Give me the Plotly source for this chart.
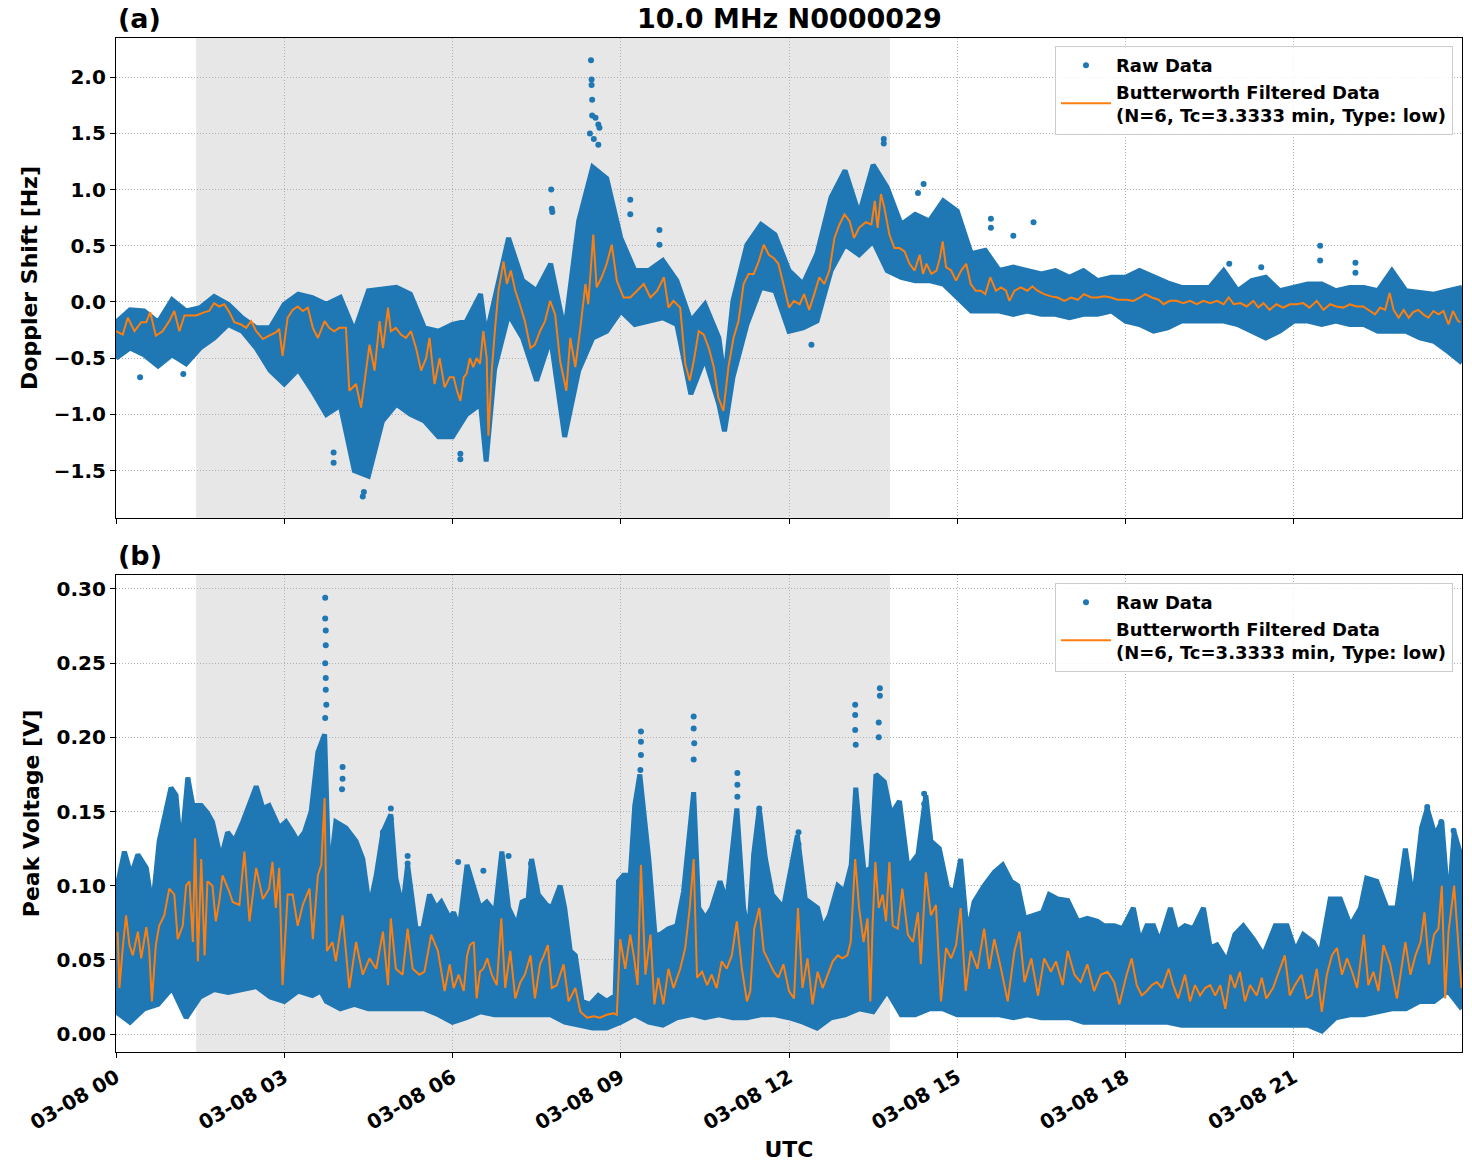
import pandas as pd
import plotly.graph_objects as go

# ---------------- data ----------------
BASE_DAY = "2024-03-08"
SHADE_START_H = 1.43
SHADE_END_H = 13.80

# ---- Panel (a): Doppler shift [Hz] ----
# raw-data band (lower / upper envelope of the dense dots)
A_HOURS = [0, 0.25, 0.5, 0.75, 1, 1.25, 1.5, 1.75, 2, 2.25, 2.5, 2.75, 3, 3.25, 3.5, 3.75,
           4, 4.25, 4.5, 4.75, 5, 5.25, 5.5, 5.75, 6, 6.25, 6.5, 6.6, 6.75, 7, 7.25, 7.5,
           7.75, 8, 8.25, 8.5, 8.75, 9, 9.25, 9.5, 9.75, 10, 10.25, 10.5, 10.75, 10.85, 11,
           11.25, 11.5, 11.75, 12, 12.25, 12.5, 12.75, 13, 13.25, 13.5, 13.75, 14, 14.25,
           14.5, 14.75, 15, 15.25, 15.5, 15.75, 16, 16.25, 16.5, 16.75, 17, 17.25, 17.5,
           17.75, 18, 18.25, 18.5, 18.75, 19, 19.25, 19.5, 19.75, 20, 20.25, 20.5, 20.75,
           21, 21.25, 21.5, 21.75, 22, 22.25, 22.5, 22.75, 23, 23.25, 23.5, 23.75, 24]
A_HIGH = [-0.18, -0.07, -0.08, -0.18, 0.02, -0.08, -0.05, 0.05, -0.02, -0.14, -0.23, -0.23,
          -0.02, 0.07, 0.04, -0.02, 0.04, -0.26, 0.10, 0.11, 0.13, 0.07, -0.23, -0.26, -0.20,
          -0.17, 0.07, -0.30, 0.04, 0.57, 0.19, 0.10, 0.34, -0.26, 0.72, 1.20, 1.10, 0.57,
          0.28, 0.28, 0.37, 0.19, -0.17, -0.02, -0.32, -0.70, 0.01, 0.51, 0.69, 0.60, 0.28,
          0.16, 0.43, 0.93, 1.17, 0.78, 1.22, 1.02, 0.69, 0.78, 0.72, 0.90, 0.81, 0.43, 0.46,
          0.28, 0.31, 0.28, 0.25, 0.28, 0.22, 0.28, 0.19, 0.22, 0.22, 0.28, 0.22, 0.17, 0.13,
          0.13, 0.13, 0.28, 0.10, 0.19, 0.22, 0.10, 0.13, 0.16, 0.16, 0.10, 0.13, 0.13, 0.10,
          0.28, 0.10, 0.08, 0.07, 0.10, 0.13]
A_LOW = [-0.50, -0.41, -0.47, -0.57, -0.47, -0.55, -0.41, -0.32, -0.20, -0.26, -0.41, -0.61,
         -0.73, -0.60, -0.79, -1.00, -0.92, -1.50, -1.55, -1.06, -0.91, -1.00, -1.06, -1.20,
         -1.20, -1.00, -0.91, -1.42, -0.60, -0.11, -0.32, -0.70, -0.32, -1.20, -0.61, -0.32,
         -0.26, -0.08, -0.20, -0.17, -0.14, -0.20, -0.82, -0.50, -0.91, -1.15, -0.67, -0.20,
         0.13, 0.10, -0.26, -0.23, -0.17, 0.28, 0.51, 0.42, 0.54, 0.28, 0.22, 0.19, 0.19, 0.16,
         0.04, -0.08, -0.08, -0.08, -0.11, -0.08, -0.11, -0.11, -0.14, -0.11, -0.11, -0.08,
         -0.17, -0.20, -0.26, -0.23, -0.17, -0.17, -0.17, -0.17, -0.20, -0.26, -0.32, -0.26,
         -0.17, -0.17, -0.20, -0.17, -0.20, -0.20, -0.26, -0.26, -0.26, -0.32, -0.35, -0.44,
         -0.54]
# isolated raw points outside the band
A_OUT_HOURS = [7.76, 7.77, 7.78, 8.47, 8.48, 8.48, 8.49, 8.49, 8.55, 8.60, 8.62, 8.45, 8.52,
               8.60, 9.17, 9.17, 9.69, 9.69, 13.69, 13.69, 14.40, 14.30, 4.40, 4.42, 3.88, 3.88,
               6.14, 6.14, 0.43, 1.20, 12.40, 15.60, 15.60, 16.36, 16.00, 21.47, 21.47, 22.10,
               22.10, 19.85, 20.42]
A_OUT_VALS = [1.00, 0.83, 0.80, 2.15, 1.98, 1.93, 1.80, 1.66, 1.64, 1.58, 1.55, 1.50, 1.45,
              1.40, 0.91, 0.78, 0.64, 0.51, 1.45, 1.41, 1.05, 0.97, -1.73, -1.69, -1.34, -1.43,
              -1.35, -1.40, -0.67, -0.64, -0.38, 0.74, 0.66, 0.71, 0.59, 0.50, 0.37, 0.35, 0.26,
              0.34, 0.31]
# Butterworth filtered curve
A_FILT_HOURS = [0, 0.12, 0.21, 0.33, 0.45, 0.54, 0.61, 0.71, 0.83, 0.95, 1.04, 1.13, 1.22, 1.31,
                1.43, 1.58, 1.66, 1.75, 1.84, 1.93, 2.02, 2.11, 2.23, 2.32, 2.41, 2.50, 2.62,
                2.73, 2.85, 2.91, 2.97, 3.06, 3.15, 3.24, 3.33, 3.42, 3.51, 3.60, 3.72, 3.80,
                3.89, 3.98, 4.10, 4.16, 4.28, 4.37, 4.43, 4.52, 4.61, 4.70, 4.76, 4.85, 4.90,
                4.99, 5.08, 5.17, 5.26, 5.35, 5.44, 5.53, 5.59, 5.68, 5.77, 5.86, 5.95,
                6.02, 6.08, 6.14, 6.20, 6.25, 6.31, 6.37, 6.43, 6.49, 6.55, 6.61, 6.64, 6.70,
                6.76, 6.82, 6.91, 6.97, 7.04, 7.12, 7.20, 7.29, 7.39, 7.47, 7.56, 7.65, 7.74,
                7.83, 7.92, 8.03, 8.10, 8.19, 8.28, 8.37, 8.42, 8.51, 8.57, 8.66, 8.75, 8.84,
                8.93, 9.05, 9.17, 9.29, 9.41, 9.53, 9.65, 9.77, 9.85, 9.94, 10.06, 10.15, 10.23,
                10.30, 10.39, 10.48, 10.57, 10.66, 10.74, 10.83, 10.92, 11.01, 11.10, 11.19,
                11.28, 11.37, 11.46, 11.55, 11.64, 11.73, 11.81, 11.90,
                12.00, 12.09, 12.19, 12.27, 12.36, 12.45, 12.54, 12.63, 12.72, 12.81, 12.90,
                12.99, 13.08, 13.16, 13.25, 13.37, 13.47, 13.53, 13.58, 13.64, 13.70, 13.79,
                13.88, 13.97, 14.06, 14.15, 14.24, 14.33, 14.39, 14.45, 14.54, 14.63, 14.69,
                14.74, 14.80, 14.89, 14.98, 15.07, 15.16, 15.24, 15.33, 15.42, 15.50, 15.59,
                15.69, 15.78, 15.87, 15.93, 16.02, 16.13, 16.25, 16.34, 16.43, 16.55, 16.67,
                16.79, 16.91, 17.03, 17.15, 17.26, 17.39, 17.50, 17.62, 17.74, 17.86,
                18.02, 18.14, 18.26, 18.35, 18.47, 18.59, 18.68, 18.79, 18.91, 19.03, 19.15,
                19.27, 19.39, 19.51, 19.63, 19.75, 19.84, 19.93, 20.05, 20.16, 20.28, 20.37,
                20.46, 20.57, 20.69, 20.81, 20.93, 21.05, 21.17, 21.28, 21.41, 21.53, 21.65,
                21.76, 21.88, 22.00, 22.12, 22.24, 22.36, 22.45, 22.54, 22.63, 22.71, 22.78,
                22.87, 22.96, 23.05, 23.13, 23.22, 23.31, 23.40, 23.49, 23.58, 23.67, 23.76,
                23.84, 23.93, 23.97]
A_FILT = [-0.26, -0.29, -0.14, -0.26, -0.18, -0.18, -0.09, -0.30, -0.26, -0.17, -0.08, -0.26,
          -0.12, -0.12, -0.12, -0.09, -0.08, -0.01, -0.04, -0.02, -0.09, -0.18, -0.20, -0.23,
          -0.17, -0.26, -0.33, -0.30, -0.27, -0.24, -0.48, -0.14, -0.07, -0.04, -0.08, -0.05,
          -0.23, -0.32, -0.17, -0.23, -0.26, -0.23, -0.23, -0.79, -0.73, -0.94, -0.70, -0.38,
          -0.61, -0.17, -0.41, -0.05, -0.26, -0.23, -0.29, -0.32, -0.26, -0.41, -0.61, -0.50,
          -0.32, -0.73, -0.50, -0.76, -0.67,
          -0.67, -0.79, -0.88, -0.67, -0.64, -0.50, -0.58, -0.50, -0.55, -0.26, -0.50, -1.19,
          -0.61, -0.23, 0.10, 0.36, 0.16, 0.28, 0.10, -0.02, -0.17, -0.41, -0.38, -0.26, -0.17,
          0.01, -0.11, -0.53, -0.79, -0.32, -0.58, -0.23, 0.16, -0.02, 0.60, 0.13, 0.22, 0.34,
          0.51, 0.19, 0.04, 0.04, 0.10, 0.16, 0.04, 0.10, 0.22, -0.05, 0.01, -0.05, -0.55,
          -0.70, -0.53, -0.26, -0.29, -0.41, -0.58, -0.85, -0.97, -0.58, -0.32, -0.17, 0.16,
          0.25, 0.25, 0.36, 0.51, 0.42, 0.39, 0.34, 0.16,
          -0.05, 0.01, -0.02, 0.07, -0.07, 0.07, 0.22, 0.16, 0.28, 0.57, 0.69, 0.78, 0.72,
          0.57, 0.66, 0.71, 0.69, 0.90, 0.66, 0.96, 0.84, 0.60, 0.48, 0.48, 0.45, 0.34, 0.28,
          0.42, 0.25, 0.34, 0.25, 0.28, 0.39, 0.54, 0.31, 0.28, 0.19, 0.28, 0.34, 0.16, 0.10,
          0.10, 0.07, 0.22, 0.10, 0.13, 0.10, 0.01, 0.10, 0.13, 0.10, 0.14, 0.10, 0.07, 0.05,
          0.04, 0.01, 0.04, 0.02, 0.07, 0.04, 0.04, 0.05, 0.04, 0.02,
          0.02, 0.01, 0.04, 0.07, 0.04, 0.02, -0.02, 0.01, 0.01, -0.01, 0.01, -0.02, 0.01,
          -0.01, 0.01, -0.02, 0.04, -0.02, -0.01, -0.04, 0.01, -0.05, -0.01, -0.07, -0.02,
          -0.05, -0.02, -0.02, -0.01, -0.05, 0.01, -0.07, -0.02, -0.04, -0.05, -0.02, -0.04,
          -0.04, -0.08, -0.11, -0.05, -0.07, 0.08, -0.07, -0.14, -0.07, -0.14, -0.09, -0.07,
          -0.11, -0.14, -0.08, -0.11, -0.08, -0.20, -0.08, -0.17, -0.18]

# ---- Panel (b): Peak voltage [V] ----
B_LOW_HOURS = [0, 0.25, 0.5, 0.75, 1, 1.25, 1.5, 1.75, 2, 2.25, 2.5, 2.75, 3, 3.25, 3.5, 3.65,
               3.75, 4, 4.25, 4.5, 4.75, 5, 5.25, 5.5, 5.75, 6, 6.25, 6.5, 6.75, 7, 7.25, 7.5,
               7.75, 8, 8.25, 8.5, 8.75, 9, 9.25, 9.35, 9.5, 9.75, 10, 10.25, 10.3, 10.5,
               10.75, 11, 11.25, 11.5, 11.75, 12, 12.25, 12.5, 12.75, 13, 13.25, 13.5, 13.75,
               14, 14.25, 14.5, 14.75, 15, 15.25, 15.5, 15.75, 16, 16.25, 16.5, 16.75, 17,
               17.25, 17.5, 17.75, 18, 18.25, 18.5, 18.75, 19, 19.25, 19.5, 19.75, 20, 20.25,
               20.5, 20.75, 21, 21.25, 21.5, 21.75, 22, 22.25, 22.5, 22.75, 23, 23.25, 23.5,
               23.75, 24]
B_LOW = [0.015, 0.008, 0.017, 0.020, 0.031, 0.011, 0.025, 0.030, 0.028, 0.030, 0.032, 0.025,
         0.022, 0.029, 0.026, 0.029, 0.022, 0.017, 0.020, 0.017, 0.017, 0.017, 0.017, 0.017,
         0.013, 0.008, 0.011, 0.015, 0.013, 0.013, 0.013, 0.013, 0.013, 0.008, 0.006, 0.004,
         0.004, 0.008, 0.013, 0.011, 0.008, 0.006, 0.011, 0.013, 0.013, 0.011, 0.013, 0.011,
         0.011, 0.013, 0.013, 0.011, 0.008, 0.004, 0.011, 0.013, 0.017, 0.015, 0.029, 0.013,
         0.013, 0.017, 0.017, 0.013, 0.013, 0.013, 0.013, 0.011, 0.013, 0.011, 0.011, 0.011,
         0.008, 0.008, 0.008, 0.008, 0.008, 0.008, 0.008, 0.006, 0.006, 0.006, 0.006, 0.006,
         0.006, 0.006, 0.006, 0.006, 0.006, 0.002, 0.011, 0.013, 0.013, 0.015, 0.017, 0.017,
         0.022, 0.022, 0.029, 0.017]
B_HIGH_HOURS = [0, 0.15, 0.27, 0.39, 0.54, 0.65, 0.77, 0.92, 0.98, 1.07, 1.16, 1.28, 1.37,
                1.52, 1.63, 1.72, 1.87, 1.99, 2.11, 2.26, 2.38, 2.50, 2.62, 2.73, 2.91, 3.03,
                3.15, 3.24, 3.36, 3.48, 3.60, 3.72, 3.80, 3.92, 4.10, 4.28, 4.40, 4.52, 4.64,
                4.76, 4.90, 4.99, 5.11, 5.20, 5.35, 5.47, 5.59, 5.71, 5.80, 5.95,
                6.02, 6.12, 6.26, 6.37, 6.49, 6.61, 6.76, 6.88, 7.00, 7.15, 7.24, 7.35, 7.41,
                7.53, 7.68, 7.77, 7.92, 8.00, 8.10, 8.19, 8.31, 8.45, 8.60, 8.75, 8.90, 8.96,
                9.05, 9.17, 9.25, 9.34, 9.50, 9.61, 9.70, 9.85, 10.00, 10.12, 10.21, 10.30,
                10.39, 10.51, 10.62, 10.77, 10.89, 11.07, 11.19, 11.28, 11.37, 11.47, 11.58,
                11.70, 11.90, 12.15, 12.29, 12.51, 12.60, 12.72, 12.87, 12.99, 13.11, 13.19,
                13.25, 13.34, 13.46, 13.55, 13.70, 13.82, 13.97, 14.12, 14.30, 14.44, 14.53,
                14.68, 14.83, 14.95, 15.06, 15.18, 15.30, 15.48, 15.66, 15.81, 15.96, 16.08,
                16.20, 16.37, 16.52, 16.64, 16.79, 16.97, 17.15, 17.32, 17.50, 17.62, 17.80,
                17.95, 18.14, 18.26, 18.38, 18.50, 18.61, 18.80, 18.91, 19.06, 19.21, 19.39,
                19.51, 19.63, 19.81, 19.95, 20.10, 20.28, 20.46, 20.67, 20.88, 21.03, 21.17,
                21.35, 21.47, 21.65, 21.83, 22.01, 22.19, 22.30, 22.48, 22.66, 22.84, 22.99,
                23.13, 23.28, 23.38, 23.52, 23.64, 23.76, 23.86, 24.00]
B_HIGH = [0.096, 0.123, 0.107, 0.121, 0.112, 0.085, 0.130, 0.154, 0.166, 0.161, 0.123, 0.173,
          0.154, 0.154, 0.149, 0.143, 0.118, 0.136, 0.130, 0.143, 0.154, 0.167, 0.152, 0.154,
          0.139, 0.143, 0.136, 0.130, 0.136, 0.150, 0.190, 0.202, 0.103, 0.143, 0.139, 0.130,
          0.118, 0.085, 0.107, 0.136, 0.148, 0.105, 0.085, 0.114, 0.071, 0.071, 0.094, 0.085,
          0.089, 0.078,
          0.082, 0.071, 0.114, 0.100, 0.085, 0.089, 0.082, 0.123, 0.085, 0.073, 0.089, 0.091,
          0.118, 0.094, 0.087, 0.085, 0.100, 0.085, 0.056, 0.053, 0.022, 0.020, 0.026, 0.022,
          0.026, 0.103, 0.107, 0.107, 0.154, 0.175, 0.118, 0.067, 0.067, 0.071, 0.073, 0.096,
          0.134, 0.163, 0.085, 0.078, 0.085, 0.103, 0.089, 0.152, 0.085, 0.067, 0.121, 0.152,
          0.118, 0.094, 0.085, 0.134, 0.091, 0.085, 0.071, 0.080, 0.100, 0.096, 0.114, 0.166,
          0.141, 0.109, 0.112, 0.175, 0.170, 0.148, 0.157, 0.112, 0.121, 0.161, 0.130, 0.125,
          0.098, 0.096, 0.118, 0.067, 0.089, 0.100, 0.109, 0.114, 0.103, 0.100, 0.078, 0.080,
          0.082, 0.094, 0.091, 0.090, 0.076, 0.078, 0.076, 0.073, 0.073, 0.071, 0.085, 0.062,
          0.073, 0.073, 0.062, 0.085, 0.069, 0.073, 0.071, 0.085, 0.058, 0.060, 0.049, 0.067,
          0.073, 0.064, 0.053, 0.073, 0.073, 0.056, 0.067, 0.062, 0.053, 0.091, 0.091, 0.073,
          0.085, 0.105, 0.103, 0.085, 0.085, 0.125, 0.089, 0.139, 0.152, 0.134, 0.143, 0.085,
          0.136, 0.118]
B_OUT_HOURS = [3.73, 3.73, 3.74, 3.74, 3.73, 3.74, 3.74, 3.75, 3.73, 4.04, 4.04, 4.03, 4.90,
               4.90, 4.90, 4.76, 5.20, 5.20, 9.36, 9.36, 9.36, 9.35, 10.30, 10.30, 10.31, 10.30,
               11.08, 11.08, 11.08, 11.47, 11.47, 13.18, 13.18, 13.18, 13.19, 13.62, 13.62,
               13.60, 13.60, 14.41, 14.41, 12.17, 12.17, 23.38, 23.38, 23.63, 23.85, 7.00, 7.40,
               6.55, 6.10]
B_OUT_VALS = [0.294, 0.280, 0.272, 0.262, 0.250, 0.240, 0.232, 0.222, 0.213, 0.180, 0.172,
              0.165, 0.152, 0.145, 0.139, 0.136, 0.120, 0.115, 0.204, 0.197, 0.188, 0.178,
              0.214, 0.206, 0.196, 0.185, 0.176, 0.168, 0.160, 0.152, 0.145, 0.222, 0.215,
              0.205, 0.195, 0.233, 0.228, 0.210, 0.200, 0.162, 0.155, 0.136, 0.128, 0.153,
              0.147, 0.143, 0.137, 0.120, 0.115, 0.110, 0.116]
B_FILT_HOURS = [0.03, 0.06, 0.12, 0.18, 0.24, 0.30, 0.39, 0.45, 0.54, 0.59, 0.64, 0.71, 0.77,
                0.86, 0.95, 1.04, 1.10, 1.19, 1.25, 1.31, 1.37, 1.41, 1.46, 1.52, 1.58, 1.63,
                1.72, 1.78, 1.84, 1.90, 2.02, 2.08, 2.20, 2.29, 2.38, 2.50, 2.62, 2.73, 2.79,
                2.85, 2.91, 2.97, 3.06, 3.15, 3.24, 3.33, 3.45, 3.51, 3.60, 3.66, 3.72, 3.76,
                3.86, 3.92, 4.04, 4.16, 4.28, 4.40, 4.52, 4.64, 4.76, 4.85, 4.90, 4.99, 5.11,
                5.20, 5.29, 5.41, 5.50, 5.62, 5.74, 5.86, 5.95,
                6.02, 6.11, 6.20, 6.26, 6.31, 6.38, 6.43, 6.49, 6.55, 6.62, 6.70, 6.79, 6.87,
                6.94, 7.03, 7.12, 7.21, 7.29, 7.39, 7.47, 7.56, 7.63, 7.70, 7.77, 7.86, 7.98,
                8.07, 8.19, 8.28, 8.40, 8.52, 8.63, 8.75, 8.87, 8.93, 8.99, 9.08, 9.17, 9.24,
                9.30, 9.36, 9.44, 9.53, 9.60, 9.67, 9.76, 9.85, 9.94, 10.06, 10.15, 10.23,
                10.30, 10.36, 10.45, 10.54, 10.62, 10.71, 10.80, 10.89, 10.98, 11.07, 11.16,
                11.25, 11.31, 11.38, 11.47, 11.55, 11.64, 11.73, 11.81, 11.90,
                12.00, 12.09, 12.16, 12.24, 12.33, 12.42, 12.51, 12.60, 12.69, 12.78, 12.87,
                12.95, 13.04, 13.10, 13.18, 13.25, 13.33, 13.40, 13.45, 13.49, 13.54, 13.60,
                13.67, 13.73, 13.79, 13.85, 13.94, 14.02, 14.12, 14.21, 14.30, 14.35, 14.44,
                14.53, 14.62, 14.71, 14.80, 14.89, 14.98, 15.06, 15.15, 15.24, 15.36, 15.48,
                15.57, 15.66, 15.78, 15.90, 16.02, 16.11, 16.20, 16.32, 16.44, 16.55, 16.67,
                16.76, 16.88, 16.97, 17.09, 17.20, 17.32, 17.44, 17.56, 17.68, 17.80, 17.89,
                18.02, 18.11, 18.20, 18.29, 18.38, 18.47, 18.56, 18.65, 18.77, 18.85, 18.94,
                19.06, 19.15, 19.24, 19.33, 19.42, 19.51, 19.60, 19.69, 19.78, 19.87, 19.95,
                20.04, 20.13, 20.22, 20.34, 20.43, 20.51, 20.63, 20.75, 20.84, 20.93, 21.02,
                21.14, 21.23, 21.32, 21.41, 21.50, 21.59, 21.68, 21.77, 21.86, 21.95, 22.04,
                22.13, 22.25, 22.33, 22.42, 22.51, 22.60, 22.72, 22.84, 22.93, 22.99, 23.08,
                23.17, 23.26, 23.33, 23.41, 23.50, 23.58, 23.64, 23.70, 23.76, 23.86, 23.93,
                23.99]
B_FILT = [0.069, 0.031, 0.058, 0.080, 0.060, 0.053, 0.069, 0.051, 0.072, 0.058, 0.022, 0.060,
          0.073, 0.080, 0.098, 0.094, 0.064, 0.073, 0.100, 0.103, 0.062, 0.132, 0.049, 0.118,
          0.053, 0.103, 0.100, 0.076, 0.089, 0.107, 0.096, 0.089, 0.087, 0.123, 0.076, 0.112,
          0.091, 0.098, 0.116, 0.085, 0.112, 0.033, 0.094, 0.094, 0.073, 0.087, 0.098, 0.064,
          0.107, 0.114, 0.159, 0.056, 0.062, 0.049, 0.080, 0.031, 0.062, 0.040, 0.051, 0.044,
          0.069, 0.033, 0.078, 0.044, 0.040, 0.071, 0.044, 0.040, 0.042, 0.067, 0.056, 0.029,
          0.047,
          0.031, 0.040, 0.029, 0.053, 0.060, 0.062, 0.024, 0.042, 0.044, 0.051, 0.040, 0.033,
          0.078, 0.031, 0.056, 0.024, 0.035, 0.040, 0.053, 0.024, 0.047, 0.053, 0.060, 0.031,
          0.033, 0.047, 0.022, 0.031, 0.015, 0.011, 0.012, 0.011, 0.013, 0.014, 0.013, 0.064,
          0.044, 0.067, 0.051, 0.033, 0.114, 0.040, 0.067, 0.020, 0.038, 0.020, 0.044, 0.031,
          0.044, 0.058, 0.085, 0.118, 0.038, 0.042, 0.033, 0.040, 0.031, 0.049, 0.044, 0.053,
          0.076, 0.044, 0.022, 0.029, 0.071, 0.085, 0.056, 0.049, 0.042, 0.038, 0.047,
          0.029, 0.024, 0.085, 0.031, 0.051, 0.020, 0.042, 0.031, 0.040, 0.049, 0.053, 0.051,
          0.053, 0.062, 0.118, 0.085, 0.062, 0.078, 0.022, 0.073, 0.116, 0.085, 0.094, 0.076,
          0.116, 0.073, 0.071, 0.098, 0.067, 0.062, 0.082, 0.047, 0.109, 0.080, 0.087, 0.022,
          0.058, 0.051, 0.060, 0.085, 0.029, 0.056, 0.044, 0.071, 0.044, 0.064, 0.044, 0.022,
          0.056, 0.069, 0.035, 0.051, 0.026, 0.051, 0.042, 0.049, 0.033, 0.056, 0.040, 0.035,
          0.047, 0.029, 0.040, 0.042, 0.035, 0.020,
          0.040, 0.051, 0.033, 0.026, 0.029, 0.033, 0.035, 0.031, 0.044, 0.033, 0.024, 0.040,
          0.022, 0.033, 0.026, 0.031, 0.033, 0.026, 0.033, 0.017, 0.040, 0.031, 0.042, 0.022,
          0.033, 0.026, 0.038, 0.024, 0.031, 0.044, 0.053, 0.026, 0.033, 0.040, 0.024, 0.026,
          0.044, 0.015, 0.040, 0.053, 0.058, 0.040, 0.051, 0.042, 0.031, 0.067, 0.033, 0.042,
          0.029, 0.060, 0.047, 0.024, 0.049, 0.062, 0.040, 0.053, 0.062, 0.082, 0.047, 0.067,
          0.071, 0.100, 0.024, 0.069, 0.100, 0.064, 0.031]

TICK_HOURS = [0, 3, 6, 9, 12, 15, 18, 21]

TITLE = "10.0 MHz N0000029"
RAW_NAME = "Raw Data"
FILT_NAME = "Butterworth Filtered Data<br>(N=6, Tc=3.3333 min, Type: low)"

# ---------------- helpers ----------------
BASE = pd.Timestamp(BASE_DAY)


def to_time(hours):
    return [BASE + pd.Timedelta(hours=h) for h in hours]


BLUE = "#1f77b4"
ORANGE = "#ff7f0e"
FONT = "DejaVu Sans"

fig = go.Figure()


def add_panel(xa, ya, legend, low_h, low, high_h, high, filt_h, filt, out_h, out_v):
    fig.add_trace(go.Scatter(x=to_time(low_h), y=low, mode="lines",
                             line=dict(color=BLUE, width=5), showlegend=False,
                             hoverinfo="skip", xaxis=xa, yaxis=ya))
    fig.add_trace(go.Scatter(x=to_time(high_h), y=high, mode="lines",
                             line=dict(color=BLUE, width=5), fill="tonexty", fillcolor=BLUE,
                             showlegend=False, hoverinfo="skip", xaxis=xa, yaxis=ya))
    fig.add_trace(go.Scatter(x=to_time(out_h), y=out_v, mode="markers",
                             marker=dict(color=BLUE, size=6), name=RAW_NAME,
                             legend=legend, xaxis=xa, yaxis=ya))
    fig.add_trace(go.Scatter(x=to_time(filt_h), y=filt, mode="lines",
                             line=dict(color=ORANGE, width=2), name=FILT_NAME,
                             legend=legend, xaxis=xa, yaxis=ya))


add_panel("x", "y", "legend", A_HOURS, A_LOW, A_HOURS, A_HIGH, A_FILT_HOURS, A_FILT,
          A_OUT_HOURS, A_OUT_VALS)
add_panel("x2", "y2", "legend2", B_LOW_HOURS, B_LOW, B_HIGH_HOURS, B_HIGH, B_FILT_HOURS,
          B_FILT, B_OUT_HOURS, B_OUT_VALS)

x_range = to_time([0, 24])
tickvals = to_time(TICK_HOURS)

axis_common = dict(showline=True, linecolor="black", linewidth=1.2, mirror=True,
                   ticks="outside", ticklen=5, tickcolor="black", tickwidth=1.2,
                   showgrid=True, gridcolor="#b0b0b0", gridwidth=0.8, griddash="1px,2px",
                   zeroline=False, tickfont=dict(size=20))

TOP_H = 480
GAP = 57
BOT_H = 477
TOTAL = TOP_H + GAP + BOT_H
dom_b = [0, BOT_H / TOTAL]
dom_a = [(BOT_H + GAP) / TOTAL, 1]

legend_common = dict(x=0.9933, xanchor="right", yanchor="top", traceorder="normal",
                     bgcolor="rgba(255,255,255,0.85)", bordercolor="#cccccc", borderwidth=1,
                     font=dict(size=18), itemwidth=50)

fig.update_layout(
    width=1472, height=1172,
    margin=dict(l=116, r=10, t=38, b=120),
    paper_bgcolor="white", plot_bgcolor="white",
    font=dict(family=FONT, size=20, color="black", weight="bold"),
    xaxis=dict(**axis_common, domain=[0, 1], anchor="y", range=x_range, tickvals=tickvals,
               showticklabels=False),
    xaxis2=dict(**axis_common, domain=[0, 1], anchor="y2", range=x_range, tickvals=tickvals,
                tickformat="%m-%d %H", tickangle=-30, matches="x",
                title=dict(text="UTC", font=dict(size=22), standoff=8)),
    yaxis=dict(**axis_common, domain=dom_a, anchor="x", range=[-1.922, 2.349],
               tickvals=[-1.5, -1.0, -0.5, 0.0, 0.5, 1.0, 1.5, 2.0], tickformat=".1f",
               title=dict(text="Doppler Shift [Hz]", font=dict(size=22), standoff=10)),
    yaxis2=dict(**axis_common, domain=dom_b, anchor="x2", range=[-0.0121, 0.3094],
                tickvals=[0.0, 0.05, 0.10, 0.15, 0.20, 0.25, 0.30], tickformat=".2f",
                title=dict(text="Peak Voltage [V]", font=dict(size=22), standoff=10)),
    legend=dict(**legend_common, y=1 - 8 / TOTAL),
    legend2=dict(**legend_common, y=dom_b[1] - 8 / TOTAL),
    showlegend=True,
)

shade_x = to_time([SHADE_START_H, SHADE_END_H])
for xr, yr in (("x", "y domain"), ("x2", "y2 domain")):
    fig.add_shape(type="rect", xref=xr, yref=yr, x0=shade_x[0], x1=shade_x[1], y0=0, y1=1,
                  fillcolor="rgb(231,231,231)", line=dict(width=0), layer="below")

fig.add_annotation(text=TITLE, xref="paper", yref="paper", x=0.5, y=1, xanchor="center",
                   yanchor="bottom", yshift=2, showarrow=False, font=dict(size=27))
fig.add_annotation(text="(a)", xref="paper", yref="paper", x=0, y=1, xanchor="left",
                   yanchor="bottom", yshift=2, showarrow=False, font=dict(size=27))
fig.add_annotation(text="(b)", xref="paper", yref="paper", x=0, y=dom_b[1], xanchor="left",
                   yanchor="bottom", yshift=2, showarrow=False, font=dict(size=27))

fig.write_html("out.html")
